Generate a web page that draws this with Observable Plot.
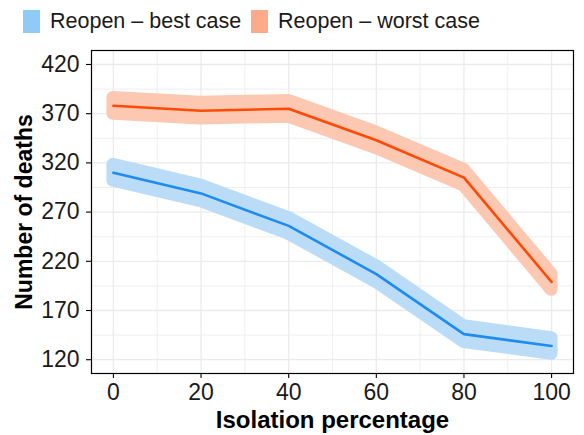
<!DOCTYPE html>
<html>
<head>
<meta charset="utf-8">
<script src="https://cdn.jsdelivr.net/npm/d3@7"></script>
<script src="https://cdn.jsdelivr.net/npm/@observablehq/plot@0.6"></script>
<style>
  html, body { margin: 0; padding: 0; background: #fff; }
  body { font-family: "Liberation Sans", Arial, Helvetica, sans-serif; width: 584px; height: 435px; overflow: hidden; }
  #legend { position: relative; width: 584px; height: 40px; }
  .key { position: absolute; top: 10px; width: 17px; height: 23px; }
  .lab { position: absolute; top: 11px; font-size: 21.5px; line-height: 21px; color: #1a1a1a; white-space: nowrap; }
  #chart svg { display: block; color: #000; }
</style>
</head>
<body>
<div id="legend"></div>
<div id="chart"></div>
<script>
// ---- data ----
const isolation = [0, 20, 40, 60, 80, 100];
const bestCase = [310, 289, 256, 207, 146, 134];
const worstCase = [378, 373, 375, 343, 305, 199];
const seriesNames = ["Reopen – best case", "Reopen – worst case"];
const xTicks = [0, 20, 40, 60, 80, 100];
const yTicks = [120, 170, 220, 270, 320, 370, 420];
const xMinor = [10, 30, 50, 70, 90];
const yMinor = [145, 195, 245, 295, 345, 395];
const bandHalf = 8;

// ---- styles ----
const lineColors = ["#1E8BF0", "#FF4A05"];
const bandColors = ["#BBDCF7", "#FCC8B2"];
const keyColors = ["#8FCBF7", "#FCAA8A"];

// legend
const legend = document.getElementById("legend");
const keyX = [23, 251];
const labX = [50, 278];
seriesNames.forEach((name, i) => {
  const k = document.createElement("div");
  k.className = "key";
  k.style.left = keyX[i] + "px";
  k.style.background = keyColors[i];
  legend.appendChild(k);
  const t = document.createElement("div");
  t.className = "lab";
  t.style.left = labX[i] + "px";
  t.textContent = name;
  legend.appendChild(t);
});

const series = [bestCase, worstCase].map((vals, s) =>
  isolation.map((x, i) => ({ x, y: vals[i], s: seriesNames[s] }))
);

const bandMarks = series.map((rows, s) =>
  Plot.areaY(rows, {
    x: "x",
    y1: d => d.y - bandHalf,
    y2: d => d.y + bandHalf,
    fill: bandColors[s],
    stroke: bandColors[s],
    strokeWidth: 13,
    strokeLinejoin: "round",
    strokeLinecap: "round"
  })
);
const lineMarks = series.map((rows, s) =>
  Plot.lineY(rows, { x: "x", y: "y", stroke: lineColors[s], strokeWidth: 2.6 })
);

const chart = Plot.plot({
  width: 584,
  height: 395,
  marginTop: 10,
  marginBottom: 62,
  marginLeft: 91,
  marginRight: 11,
  style: { fontFamily: "'Liberation Sans', Arial, Helvetica, sans-serif", fontSize: "23px", background: "#fff", overflow: "visible" },
  x: { domain: [-5, 105] },
  y: { domain: [106, 434.2] },
  marks: [
    Plot.gridX(xMinor, { stroke: "#ebebeb", strokeOpacity: 1, strokeWidth: 0.8 }),
    Plot.gridY(yMinor, { stroke: "#ebebeb", strokeOpacity: 1, strokeWidth: 0.8 }),
    Plot.gridX(xTicks, { stroke: "#ebebeb", strokeOpacity: 1, strokeWidth: 1.3 }),
    Plot.gridY(yTicks, { stroke: "#ebebeb", strokeOpacity: 1, strokeWidth: 1.3 }),
    ...bandMarks,
    ...lineMarks,
    Plot.frame({ stroke: "#000", strokeWidth: 1.2 }),
    Plot.axisX(xTicks, { tickSize: 5, tickPadding: 5, fontSize: 23, label: null, stroke: "#000", fill: "#1a1a1a", strokeWidth: 1.1 }),
    Plot.axisY(yTicks, { tickSize: 5, tickPadding: 7, fontSize: 23, label: null, stroke: "#000", fill: "#1a1a1a", strokeWidth: 1.1 }),
    Plot.text(["Isolation percentage"], { frameAnchor: "bottom", lineAnchor: "top", dy: 37, fontSize: 24, fontWeight: "bold", fill: "#000" }),
    Plot.text(["Number of deaths"], { frameAnchor: "left", textAnchor: "middle", lineAnchor: "bottom", rotate: -90, dx: -60, fontSize: 23, fontWeight: "bold", fill: "#000" })
  ]
});
document.getElementById("chart").appendChild(chart);
</script>
</body>
</html>
